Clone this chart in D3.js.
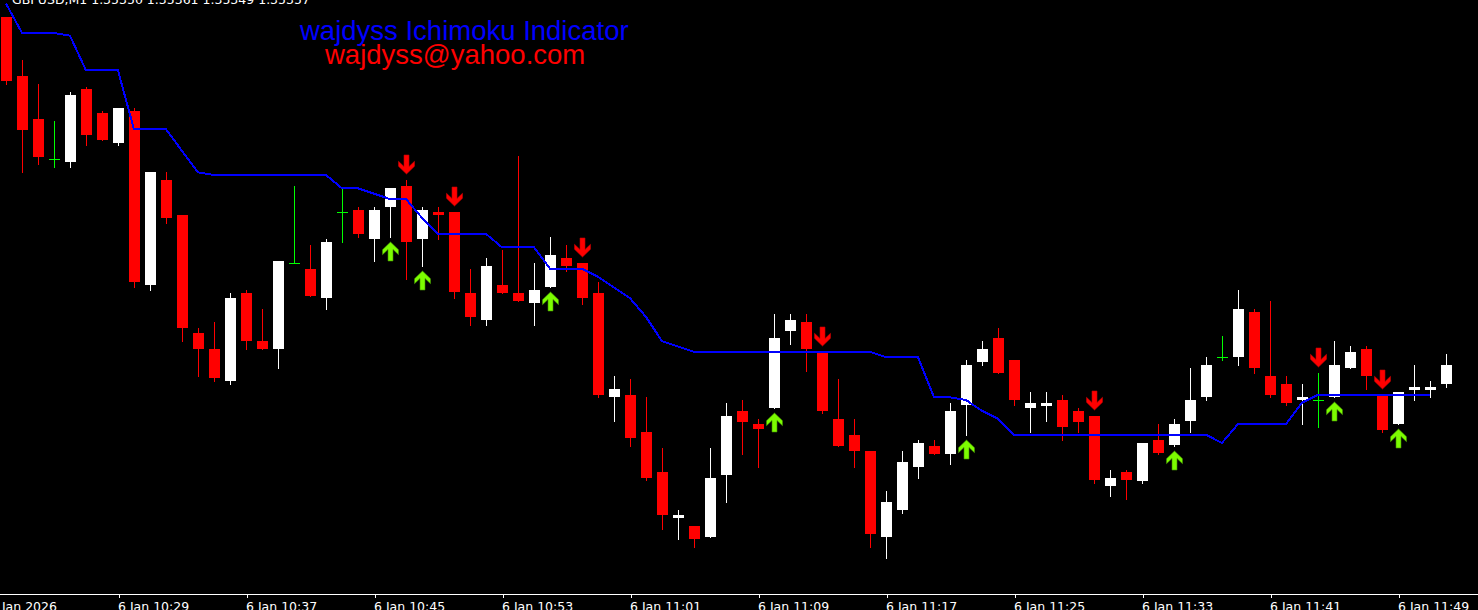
<!DOCTYPE html>
<html>
<head>
<meta charset="utf-8">
<script src="https://cdn.jsdelivr.net/npm/d3@7/dist/d3.min.js"></script>
<style>
  html, body { margin: 0; padding: 0; background: #000; overflow: hidden; }
  svg { display: block; }
</style>
</head>
<body>
<svg id="chart"></svg>
<script>
const width = 1478;
const height = 610;

// GBPUSD M1, 6 Jan 2026, bar 0 = 10:22
const opens = [
  1.35487, 1.35465, 1.35449, 1.35434, 1.35433, 1.35460, 1.35451, 1.35440, 1.35452, 1.35387,
  1.35426, 1.35413, 1.35369, 1.35363, 1.35351, 1.35384, 1.35366, 1.35363, 1.35395, 1.35393,
  1.35382, 1.35414, 1.35415, 1.35404, 1.35416, 1.35424, 1.35404, 1.35414, 1.35414, 1.35384,
  1.35374, 1.35387, 1.35384, 1.35380, 1.35386, 1.35397, 1.35395, 1.35384, 1.35345, 1.35346,
  1.35332, 1.35317, 1.35300, 1.35297, 1.35293, 1.35316, 1.35340, 1.35335, 1.35341, 1.35370,
  1.35373, 1.35362, 1.35337, 1.35331, 1.35325, 1.35293, 1.35303, 1.35319, 1.35327, 1.35324,
  1.35342, 1.35358, 1.35367, 1.35359, 1.35341, 1.35342, 1.35344, 1.35340, 1.35338, 1.35312,
  1.35317, 1.35314, 1.35329, 1.35327, 1.35336, 1.35345, 1.35360, 1.35360, 1.35377, 1.35353,
  1.35350, 1.35344, 1.35344, 1.35345, 1.35356, 1.35363, 1.35346, 1.35335, 1.35348, 1.35348,
  1.35350
];
const highs = [
  1.35487, 1.35471, 1.35462, 1.35448, 1.35459, 1.35461, 1.35452, 1.35453, 1.35453, 1.35429,
  1.35429, 1.35413, 1.35371, 1.35373, 1.35384, 1.35385, 1.35378, 1.35396, 1.35424, 1.35402,
  1.35404, 1.35423, 1.35416, 1.35416, 1.35423, 1.35426, 1.35416, 1.35416, 1.35414, 1.35393,
  1.35397, 1.35400, 1.35435, 1.35395, 1.35405, 1.35402, 1.35395, 1.35388, 1.35353, 1.35352,
  1.35345, 1.35326, 1.35303, 1.35297, 1.35326, 1.35343, 1.35344, 1.35337, 1.35376, 1.35376,
  1.35376, 1.35362, 1.35352, 1.35337, 1.35325, 1.35310, 1.35325, 1.35329, 1.35329, 1.35343,
  1.35359, 1.35366, 1.35371, 1.35359, 1.35347, 1.35347, 1.35346, 1.35341, 1.35338, 1.35318,
  1.35318, 1.35328, 1.35335, 1.35337, 1.35356, 1.35360, 1.35368, 1.35385, 1.35378, 1.35381,
  1.35353, 1.35350, 1.35354, 1.35366, 1.35364, 1.35364, 1.35346, 1.35347, 1.35357, 1.35351,
  1.35361
];
const lows = [
  1.35462, 1.35429, 1.35432, 1.35431, 1.35431, 1.35439, 1.35441, 1.35439, 1.35386, 1.35385,
  1.35410, 1.35366, 1.35353, 1.35351, 1.35350, 1.35363, 1.35363, 1.35356, 1.35395, 1.35383,
  1.35378, 1.35403, 1.35405, 1.35396, 1.35405, 1.35389, 1.35394, 1.35404, 1.35382, 1.35372,
  1.35372, 1.35384, 1.35381, 1.35372, 1.35386, 1.35392, 1.35380, 1.35345, 1.35336, 1.35327,
  1.35314, 1.35296, 1.35292, 1.35289, 1.35293, 1.35306, 1.35324, 1.35319, 1.35341, 1.35365,
  1.35355, 1.35339, 1.35327, 1.35319, 1.35289, 1.35285, 1.35302, 1.35315, 1.35324, 1.35320,
  1.35331, 1.35357, 1.35354, 1.35342, 1.35332, 1.35336, 1.35329, 1.35332, 1.35313, 1.35308,
  1.35307, 1.35313, 1.35324, 1.35327, 1.35332, 1.35344, 1.35359, 1.35357, 1.35354, 1.35345,
  1.35342, 1.35335, 1.35334, 1.35345, 1.35356, 1.35348, 1.35332, 1.35335, 1.35344, 1.35345,
  1.35349
];
const closes = [
  1.35463, 1.35445, 1.35435, 1.35434, 1.35458, 1.35443, 1.35441, 1.35453, 1.35388, 1.35429,
  1.35412, 1.35371, 1.35363, 1.35352, 1.35382, 1.35366, 1.35363, 1.35396, 1.35395, 1.35383,
  1.35403, 1.35414, 1.35406, 1.35415, 1.35423, 1.35403, 1.35415, 1.35413, 1.35384, 1.35375,
  1.35394, 1.35384, 1.35381, 1.35385, 1.35398, 1.35394, 1.35382, 1.35346, 1.35348, 1.35330,
  1.35315, 1.35301, 1.35301, 1.35292, 1.35315, 1.35338, 1.35336, 1.35333, 1.35367, 1.35374,
  1.35363, 1.35340, 1.35327, 1.35325, 1.35294, 1.35306, 1.35321, 1.35328, 1.35324, 1.35340,
  1.35357, 1.35363, 1.35354, 1.35344, 1.35343, 1.35343, 1.35334, 1.35336, 1.35314, 1.35315,
  1.35314, 1.35328, 1.35324, 1.35335, 1.35344, 1.35357, 1.35360, 1.35378, 1.35356, 1.35346,
  1.35343, 1.35345, 1.35344, 1.35357, 1.35362, 1.35353, 1.35333, 1.35347, 1.35349, 1.35349,
  1.35357
];

// blue indicator line (null = not drawn)
const kijun = [
  1.35492, 1.35481, 1.35481, 1.35481, 1.35480, 1.35467, 1.35467, 1.35467, 1.35445, 1.35445,
  1.35445, 1.35437, 1.35429, 1.35428, 1.35428, 1.35428, 1.35428, 1.35428, 1.35428, 1.35428,
  1.35428, 1.35423, 1.35423, 1.35421, 1.35419, 1.35419, 1.35412, 1.35406, 1.35406, 1.35406,
  1.35406, 1.35401, 1.35401, 1.35401, 1.35393, 1.35393, 1.35393, 1.35390, 1.35386, 1.35382,
  1.35375, 1.35366, 1.35364, 1.35362, 1.35362, 1.35362, 1.35362, 1.35362, 1.35362, 1.35362,
  1.35362, 1.35362, 1.35362, 1.35362, 1.35362, 1.35360, 1.35360, 1.35360, 1.35345, 1.35345,
  1.35344, 1.35340, 1.35337, 1.35331, 1.35331, 1.35331, 1.35331, 1.35331, 1.35331, 1.35331,
  1.35331, 1.35331, 1.35331, 1.35331, 1.35331, 1.35331, 1.35328, 1.35335, 1.35335, 1.35335,
  1.35335, 1.35343, 1.35346, 1.35346, 1.35346, 1.35346, 1.35346, 1.35346, 1.35346, 1.35346,
  null
];

const sellSignals = [25, 28, 36, 51, 68, 82, 86];
const buySignals = [24, 26, 34, 48, 60, 73, 83, 87];

const tickBars = [-1, 7, 15, 23, 31, 39, 47, 55, 63, 71, 79, 87];
const tickLabels = [
  "6 Jan 2026", "6 Jan 10:29", "6 Jan 10:37", "6 Jan 10:45", "6 Jan 10:53", "6 Jan 11:01",
  "6 Jan 11:09", "6 Jan 11:17", "6 Jan 11:25", "6 Jan 11:33", "6 Jan 11:41", "6 Jan 11:49"
];

const symbolLine = "GBPUSD,M1  1.35350 1.35361 1.35349 1.35357";
const titleText = "wajdyss Ichimoku Indicator";
const emailText = "wajdyss@yahoo.com";

const axisY = 594;

const svg = d3.select("#chart").attr("width", width).attr("height", height);
svg.append("rect").attr("width", width).attr("height", height).attr("fill", "#000");

const x = d3.scaleLinear().domain([0, 90]).range([6, 1446]);
const y = d3.scaleLinear().domain([1.352716, 1.354933]).range([axisY, 0]);

const bars = opens.map((o, i) => ({
  i, o, h: highs[i], l: lows[i], c: closes[i]
}));

const barColor = (d) => (d.c > d.o ? "#ffffff" : d.c < d.o ? "#ff0000" : "#00ff00");

const g = svg.append("g");

// wicks
g.selectAll("line.wick")
  .data(bars)
  .enter()
  .append("line")
  .attr("class", "wick")
  .attr("x1", (d) => Math.round(x(d.i)) + 0.5)
  .attr("x2", (d) => Math.round(x(d.i)) + 0.5)
  .attr("y1", (d) => Math.round(y(d.h)))
  .attr("y2", (d) => Math.round(y(d.l)) + 1)
  .attr("stroke", barColor)
  .attr("stroke-width", 1)
  .attr("shape-rendering", "crispEdges");

// bodies (doji -> thin horizontal bar)
g.selectAll("rect.body")
  .data(bars)
  .enter()
  .append("rect")
  .attr("class", "body")
  .attr("x", (d) => Math.round(x(d.i)) - 5)
  .attr("width", 11)
  .attr("y", (d) => Math.round(y(Math.max(d.o, d.c))))
  .attr("height", (d) => Math.max(1, Math.round(Math.abs(y(d.o) - y(d.c)))))
  .attr("fill", barColor)
  .attr("shape-rendering", "crispEdges");

// indicator line
const line = d3
  .line()
  .defined((d) => d != null)
  .x((d, i) => x(i))
  .y((d) => y(d));

g.append("path")
  .datum(kijun)
  .attr("fill", "none")
  .attr("stroke", "#0000ff")
  .attr("stroke-width", 2)
  .attr("shape-rendering", "crispEdges")
  .attr("d", line);

// arrows
const downArrow = [
  [-2.5, -19], [2.5, -19], [2.5, -7.5], [8, -12.7], [8, -7.7], [0, 0],
  [-8, -7.7], [-8, -12.7], [-2.5, -7.5]
];
const upArrow = downArrow.map(([px, py]) => [px, -py]);
const shape = d3.line();

g.selectAll("path.sell")
  .data(sellSignals)
  .enter()
  .append("path")
  .attr("class", "sell")
  .attr("d", shape(downArrow) + "Z")
  .attr("transform", (i) => `translate(${Math.round(x(i)) + 0.5},${Math.round(y(highs[i])) - 6})`)
  .attr("fill", "#ff0000")
  .attr("stroke", "#c00000")
  .attr("stroke-width", 0.6);

g.selectAll("path.buy")
  .data(buySignals)
  .enter()
  .append("path")
  .attr("class", "buy")
  .attr("d", shape(upArrow) + "Z")
  .attr("transform", (i) => `translate(${Math.round(x(i)) + 0.5},${Math.round(y(lows[i])) + 5})`)
  .attr("fill", "#7cfc00")
  .attr("stroke", "#3f8f00")
  .attr("stroke-width", 0.6);

// time axis
svg.append("line")
  .attr("x1", 0)
  .attr("x2", width)
  .attr("y1", axisY + 0.5)
  .attr("y2", axisY + 0.5)
  .attr("stroke", "#ffffff")
  .attr("stroke-width", 1)
  .attr("shape-rendering", "crispEdges");

const xAxis = d3
  .axisBottom(x)
  .tickValues(tickBars)
  .tickSize(4)
  .tickSizeOuter(0)
  .tickFormat((d, i) => tickLabels[i]);

const axisG = svg.append("g")
  .attr("transform", `translate(0.5,${axisY})`)
  .call(xAxis);
axisG.select(".domain").remove();
axisG.selectAll(".tick line").attr("stroke", "#ffffff").attr("shape-rendering", "crispEdges");
axisG.selectAll(".tick text")
  .attr("fill", "#ffffff")
  .attr("text-anchor", "start")
  .attr("x", -1)
  .attr("y", 17)
  .attr("dy", 0)
  .style("font-family", "DejaVu Sans, sans-serif")
  .style("font-size", "12.5px");

// header texts
svg.append("text")
  .attr("x", 12)
  .attr("y", 4)
  .attr("fill", "#ffffff")
  .style("font-family", "DejaVu Sans, sans-serif")
  .style("font-size", "12.5px")
  .text(symbolLine);

svg.append("text")
  .attr("x", 300)
  .attr("y", 40)
  .attr("fill", "#0000ff")
  .style("font-family", "Liberation Sans, Arial, sans-serif")
  .style("font-size", "27.5px")
  .text(titleText);

svg.append("text")
  .attr("x", 325)
  .attr("y", 64)
  .attr("fill", "#ff0000")
  .style("font-family", "Liberation Sans, Arial, sans-serif")
  .style("font-size", "27.5px")
  .text(emailText);
</script>
</body>
</html>
